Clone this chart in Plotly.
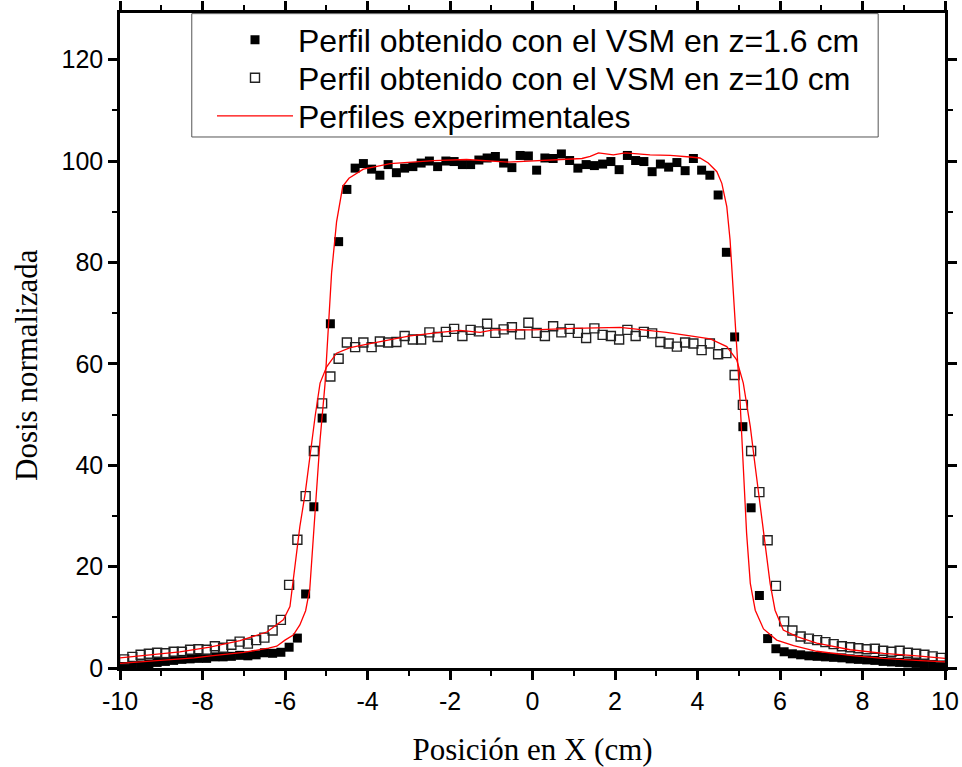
import plotly.graph_objects as go

# ---- data ----
x_pts = [-9.9, -9.7, -9.5, -9.3, -9.1, -8.9, -8.7, -8.5, -8.3, -8.1,
         -7.9, -7.7, -7.5, -7.3, -7.1, -6.9, -6.7, -6.5, -6.3, -6.1,
         -5.9, -5.7, -5.5, -5.3, -5.1, -4.9, -4.7, -4.5, -4.3, -4.1,
         -3.9, -3.7, -3.5, -3.3, -3.1, -2.9, -2.7, -2.5, -2.3, -2.1,
         -1.9, -1.7, -1.5, -1.3, -1.1, -0.9, -0.7, -0.5, -0.3, -0.1,
         0.1, 0.3, 0.5, 0.7, 0.9, 1.1, 1.3, 1.5, 1.7, 1.9,
         2.1, 2.3, 2.5, 2.7, 2.9, 3.1, 3.3, 3.5, 3.7, 3.9,
         4.1, 4.3, 4.5, 4.7, 4.9, 5.1, 5.3, 5.5, 5.7, 5.9,
         6.1, 6.3, 6.5, 6.7, 6.9, 7.1, 7.3, 7.5, 7.7, 7.9,
         8.1, 8.3, 8.5, 8.7, 8.9, 9.1, 9.3, 9.5, 9.7, 9.9]

vsm_z16 = [0.3, 0.4, 0.6, 0.8, 1.1, 1.3, 1.5, 1.7, 1.8, 1.9,
           1.9, 2.2, 2.2, 2.3, 2.5, 2.4, 2.6, 3.0, 2.9, 3.1,
           4.1, 5.9, 14.6, 31.8, 49.3, 67.9, 84.1, 94.4, 98.6, 99.5,
           98.4, 97.2, 99.3, 97.7, 98.6, 98.9, 99.6, 100.0, 98.9, 100.0,
           99.9, 99.3, 99.3, 100.2, 100.6, 100.9, 99.6, 98.7, 101.1, 101.0,
           98.2, 100.6, 100.5, 101.4, 100.1, 98.6, 99.3, 99.1, 99.4, 99.9,
           98.3, 101.1, 100.1, 99.9, 97.9, 99.4, 98.8, 99.7, 98.1, 100.5,
           98.2, 97.2, 93.3, 82.0, 65.3, 47.6, 31.6, 14.3, 5.8, 3.8,
           3.2, 2.8, 2.6, 2.4, 2.3, 2.2, 2.1, 2.0, 1.8, 1.7,
           1.6, 1.5, 1.3, 1.2, 1.1, 1.0, 0.9, 0.8, 0.7, 0.6]

vsm_z10 = [1.7, 2.2, 2.6, 2.8, 3.0, 2.9, 3.2, 3.2, 3.6, 3.7,
           3.6, 4.3, 4.0, 4.6, 5.2, 4.8, 5.5, 6.0, 7.4, 9.5,
           16.4, 25.3, 33.9, 42.8, 52.2, 57.5, 61.0, 64.2, 63.3, 64.2,
           63.3, 64.4, 64.2, 64.3, 65.5, 64.8, 64.8, 66.2, 65.3, 66.3,
           66.9, 65.5, 66.7, 66.4, 67.9, 66.1, 66.8, 67.2, 65.8, 68.1,
           66.1, 65.5, 67.4, 66.2, 66.9, 66.1, 65.1, 67.0, 65.7, 65.5,
           64.8, 66.7, 65.5, 66.3, 66.0, 64.3, 64.0, 63.4, 64.2, 64.0,
           62.7, 64.0, 61.9, 62.1, 57.8, 51.9, 42.8, 34.7, 25.2, 16.2,
           9.2, 7.4, 6.2, 5.8, 5.5, 5.1, 4.7, 4.3, 4.1, 3.9,
           3.7, 3.8, 3.4, 3.2, 3.4, 3.0, 2.8, 2.6, 2.3, 2.0]

exp_z16_x = [-10, -9.0, -8.2, -7.8, -7.0, -6.4, -6.2, -6.0, -5.8, -5.64,
             -5.5, -5.4, -5.3, -5.23, -5.15, -5.03, -4.95, -4.87, -4.75, -4.6,
             -4.45, -4.3, -4.1, -3.86, -3.45, -2.4, -1.6, -0.6, 0.2, 1.2,
             1.4, 1.6, 1.96, 2.25, 2.85, 3.34, 3.82, 4.06, 4.26, 4.47,
             4.59, 4.71, 4.79, 4.87, 4.94, 5.03, 5.11, 5.19, 5.28, 5.4,
             5.6, 5.92, 6.33, 6.89, 7.7, 8.5, 9.3, 10]
exp_z16_y = [0.9, 1.5, 2.0, 2.4, 3.1, 3.9, 4.3, 5.5, 6.5, 8.5,
             11.3, 15.5, 27.0, 37.0, 45.0, 56.0, 67.0, 78.0, 88.0, 95.0,
             96.6, 97.3, 98.4, 98.8, 99.5, 100.1, 100.3, 99.8, 100.1, 100.5,
             100.9, 101.6, 101.2, 101.6, 101.2, 101.1, 100.8, 100.6, 99.6, 97.9,
             95.6, 91.0, 84.4, 74.6, 65.4, 52.9, 39.7, 26.6, 16.7, 11.4,
             7.7, 5.5, 4.4, 3.3, 2.5, 1.9, 1.5, 1.2]

exp_z10_x = [-10, -8.55, -7.82, -7.09, -6.44, -6.04, -5.88, -5.76, -5.64, -5.51,
             -5.39, -5.27, -5.15, -4.99, -4.75, -4.42, -3.94, -3.7, -2.97, -2.24,
             -1.76, -1.27, -0.95, 0.02, 0.99, 2.12, 2.77, 3.25, 3.66, 4.31,
             4.71, 4.95, 5.11, 5.28, 5.4, 5.52, 5.64, 5.76, 5.88, 6.08,
             6.41, 6.89, 7.7, 8.51, 9.32, 10]
exp_z10_y = [2.0, 3.2, 4.1, 5.4, 7.1, 9.5, 12.1, 20.0, 27.9, 34.5,
             42.4, 49.6, 56.2, 59.4, 62.1, 63.2, 64.0, 64.4, 65.5, 66.2,
             66.6, 66.2, 66.7, 66.7, 67.0, 67.2, 66.7, 66.2, 65.7, 64.9,
             63.4, 60.8, 56.2, 47.6, 39.7, 31.8, 23.9, 16.7, 11.4, 7.5,
             6.2, 4.9, 3.6, 2.9, 2.4, 1.9]

x_ticks = [-10, -8, -6, -4, -2, 0, 2, 4, 6, 8, 10]
y_ticks = [0, 20, 40, 60, 80, 100, 120]

name_z16 = "Perfil obtenido con el VSM en z=1.6 cm"
name_z10 = "Perfil obtenido con el VSM en z=10 cm"
name_exp = "Perfiles experimentales"
x_title = "Posición en X (cm)"
y_title = "Dosis normalizada"

# ---- figure ----
fig = go.Figure()
fig.add_trace(go.Scatter(x=x_pts, y=vsm_z16, mode="markers", name=name_z16,
                         legend="legend",
                         marker=dict(symbol="square", size=9, color="black",
                                     line=dict(width=0))))
fig.add_trace(go.Scatter(x=x_pts, y=vsm_z10, mode="markers", name=name_z10,
                         legend="legend2",
                         marker=dict(symbol="square-open", size=9, color="#222222",
                                     line=dict(width=1.4))))
fig.add_trace(go.Scatter(x=exp_z16_x, y=exp_z16_y, mode="lines", name=name_exp,
                         legend="legend3",
                         line=dict(color="red", width=1.3)))
fig.add_trace(go.Scatter(x=exp_z10_x, y=exp_z10_y, mode="lines", name=name_exp,
                         showlegend=False, line=dict(color="red", width=1.3)))

tickfont = dict(family="Liberation Sans, Arial", size=25, color="black")
titlefont = dict(family="Liberation Serif, Times New Roman, serif", size=31, color="black")
legfont = dict(family="Liberation Sans, Arial", size=32, color="black")

# plot area: x 120..945 px, y 13..668 px
def leg(row_px):
    return dict(x=(212 - 120) / 825, y=(668 - row_px) / 655, xanchor="left",
                yanchor="middle", bgcolor="rgba(255,255,255,0)", borderwidth=0,
                font=legfont, itemwidth=76)

fig.update_layout(
    width=962, height=767,
    margin=dict(l=120, r=17, t=13, b=99, autoexpand=False),
    paper_bgcolor="white", plot_bgcolor="white",
    showlegend=True,
    legend=leg(40), legend2=leg(78), legend3=leg(116),
    xaxis=dict(range=[-10, 10], tickvals=x_ticks, ticktext=[str(v) for v in x_ticks],
               automargin=False,
               showgrid=False, zeroline=False, showline=True, linecolor="black",
               linewidth=2.5, mirror="allticks", ticks="outside", ticklen=9,
               tickwidth=2.5, tickcolor="black", tickfont=tickfont,
               minor=dict(dtick=1, ticks="outside", ticklen=5, tickwidth=2,
                          tickcolor="black"),
               title=dict(text=x_title, font=titlefont, standoff=25)),
    yaxis=dict(range=[0, 129.2], tickvals=y_ticks, ticktext=[str(v) for v in y_ticks],
               automargin=False,
               showgrid=False, zeroline=False, showline=True, linecolor="black",
               linewidth=2.5, mirror="allticks", ticks="outside", ticklen=9,
               tickwidth=2.5, tickcolor="black", tickfont=tickfont,
               minor=dict(dtick=10, ticks="outside", ticklen=5, tickwidth=2,
                          tickcolor="black")),
    annotations=[dict(text=y_title, font=titlefont, textangle=-90,
                      xref="paper", yref="paper",
                      x=(27 - 120) / 825, y=(668 - 365) / 655,
                      xanchor="center", yanchor="middle", showarrow=False)],
    shapes=[dict(type="rect", xref="paper", yref="paper",
                 x0=0.087, x1=0.919, y0=0.8107, y1=0.999,
                 line=dict(color="#555555", width=1), fillcolor="rgba(0,0,0,0)")],
)

fig.write_html("out.html")
